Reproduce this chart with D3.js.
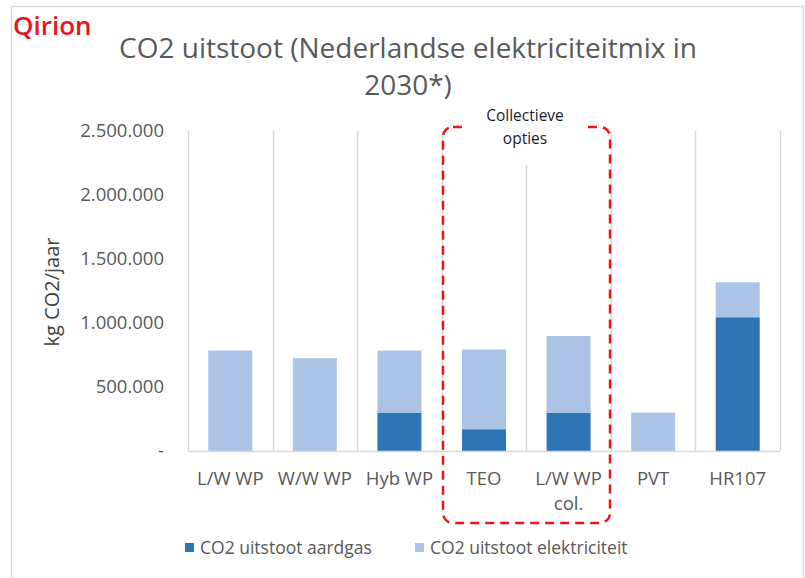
<!DOCTYPE html>
<html>
<head>
<meta charset="utf-8">
<script src="https://cdn.jsdelivr.net/npm/d3@7"></script>
<style>
  body { margin: 0; background: #fff; }
  svg text { font-family: "Open Sans", "Noto Sans", sans-serif; }
</style>
</head>
<body>
<div class="Chart"></div>
<script>
// chart data
var categories = ["L/W WP", "W/W WP", "Hyb WP", "TEO", "L/W WP col.", "PVT", "HR107"];
var aardgas = [0, 0, 300000, 170000, 300000, 0, 1045000];
var elektriciteit = [785000, 725000, 485000, 623000, 598000, 300000, 273000];
var yTicks = [0, 500000, 1000000, 1500000, 2000000, 2500000];
var seriesNames = ["CO2 uitstoot aardgas", "CO2 uitstoot elektriciteit"];
var seriesColors = ["#2e75b6", "#abc4e6"];

var width = 805, height = 578;
var plot = { left: 188, right: 780, top: 131, bottom: 451 };

var svg = d3.select(".Chart").append("svg")
            .attr("width", width)
            .attr("height", height);

// outer frame (top, left, right only - bottom is cut off)
svg.append("path")
   .attr("d", "M11.5," + height + "V6.5H803.5V" + height)
   .attr("fill", "none")
   .attr("stroke", "#d9d9d9")
   .attr("stroke-width", 1.5);

// logo
svg.append("text")
   .attr("x", 13).attr("y", 35)
   .attr("font-size", 26)
   .attr("font-weight", 600)
   .attr("fill", "#e8141e")
   .text("Qirion");

// title
var title = svg.append("text")
               .attr("text-anchor", "middle")
               .attr("font-size", 28)
               .attr("fill", "#595959");
title.append("tspan").attr("x", 408).attr("y", 58).text("CO2 uitstoot (Nederlandse elektriciteitmix in");
title.append("tspan").attr("x", 408).attr("y", 95).text("2030*)");

// scales
var x = d3.scaleBand()
          .domain(categories)
          .range([plot.left, plot.right])
          .paddingInner(0)
          .paddingOuter(0);

var y = d3.scaleLinear()
          .domain([0, 2500000])
          .range([plot.bottom, plot.top]);

// category separators
svg.append("g")
   .selectAll("line")
   .data(categories.concat(["end"]))
   .enter().append("line")
   .attr("x1", function(d, i){ return Math.round(plot.left + x.bandwidth() * i) + 0.5; })
   .attr("x2", function(d, i){ return Math.round(plot.left + x.bandwidth() * i) + 0.5; })
   .attr("y1", plot.top)
   .attr("y2", plot.bottom)
   .attr("stroke", "#d9d9d9")
   .attr("stroke-width", 1.5);

// y axis labels
var fmt = function(v){ return v == 0 ? "-" : d3.format(",")(v).replace(/,/g, "."); };
var yAxis = d3.axisLeft(y)
              .tickValues(yTicks)
              .tickSize(0)
              .tickPadding(24)
              .tickFormat(fmt);
var yg = svg.append("g")
            .attr("transform", "translate(" + plot.left + ",0)")
            .call(yAxis);
yg.select(".domain").remove();
yg.selectAll("text")
  .attr("font-size", 18.5)
  .attr("fill", "#595959");

svg.append("text")
   .attr("transform", "translate(59," + 292 + ") rotate(-90)")
   .attr("text-anchor", "middle")
   .attr("font-size", 20)
   .attr("fill", "#404040")
   .text("kg CO2/jaar");

// stacked bars
var rows = categories.map(function(c, i){
  return { cat: c, aardgas: aardgas[i], elektriciteit: elektriciteit[i] };
});
var stack = d3.stack().keys(["aardgas", "elektriciteit"])(rows);
var barW = 44;

svg.append("g")
   .selectAll("g")
   .data(stack)
   .enter().append("g")
   .attr("fill", function(d, i){ return seriesColors[i]; })
   .selectAll("rect")
   .data(function(d){ return d; })
   .enter().append("rect")
   .attr("x", function(d){ return x(d.data.cat) + x.bandwidth() / 2 - barW / 2; })
   .attr("width", barW)
   .attr("y", function(d){ return y(d[1]); })
   .attr("height", function(d){ return y(d[0]) - y(d[1]); });

// baseline
svg.append("line")
   .attr("x1", plot.left).attr("x2", plot.right)
   .attr("y1", plot.bottom + 0.5).attr("y2", plot.bottom + 0.5)
   .attr("stroke", "#d9d9d9")
   .attr("stroke-width", 1.5);

// x labels (wrapped)
var labelLines = { "L/W WP col.": ["L/W WP", "col."] };
var xl = svg.append("g")
            .selectAll("text")
            .data(categories)
            .enter().append("text")
            .attr("text-anchor", "middle")
            .attr("font-size", 18.5)
            .attr("fill", "#595959");
xl.each(function(d){
  var lines = labelLines[d] || [d];
  var t = d3.select(this);
  lines.forEach(function(l, j){
    t.append("tspan")
     .attr("x", x(d) + x.bandwidth() / 2)
     .attr("y", 485 + j * 25)
     .text(l);
  });
});

// dashed box for collective options
svg.append("rect")
   .attr("x", 443).attr("y", 127)
   .attr("width", 167).attr("height", 396)
   .attr("rx", 10).attr("ry", 10)
   .attr("fill", "none")
   .attr("stroke", "#e8141e")
   .attr("stroke-width", 2.5)
   .attr("stroke-dasharray", "9,6");

// annotation with white background
svg.append("rect")
   .attr("x", 463).attr("y", 100)
   .attr("width", 123).attr("height", 65)
   .attr("fill", "#fff");
var ann = svg.append("text")
             .attr("text-anchor", "middle")
             .attr("font-size", 15.5)
             .attr("fill", "#1a1a2e");
ann.append("tspan").attr("x", 525).attr("y", 121).text("Collectieve");
ann.append("tspan").attr("x", 525).attr("y", 144).text("opties");

// legend
var legendX = [185, 415];
var legend = svg.append("g")
                .selectAll("g")
                .data(seriesNames)
                .enter().append("g")
                .attr("transform", function(d, i){ return "translate(" + legendX[i] + ",548)"; });
legend.append("rect")
      .attr("x", 0).attr("y", -5)
      .attr("width", 9).attr("height", 9)
      .attr("fill", function(d, i){ return seriesColors[i]; });
legend.append("text")
      .attr("x", 15).attr("y", 6)
      .attr("font-size", 17.5)
      .attr("fill", "#595959")
      .text(function(d){ return d; });
</script>
</body>
</html>
